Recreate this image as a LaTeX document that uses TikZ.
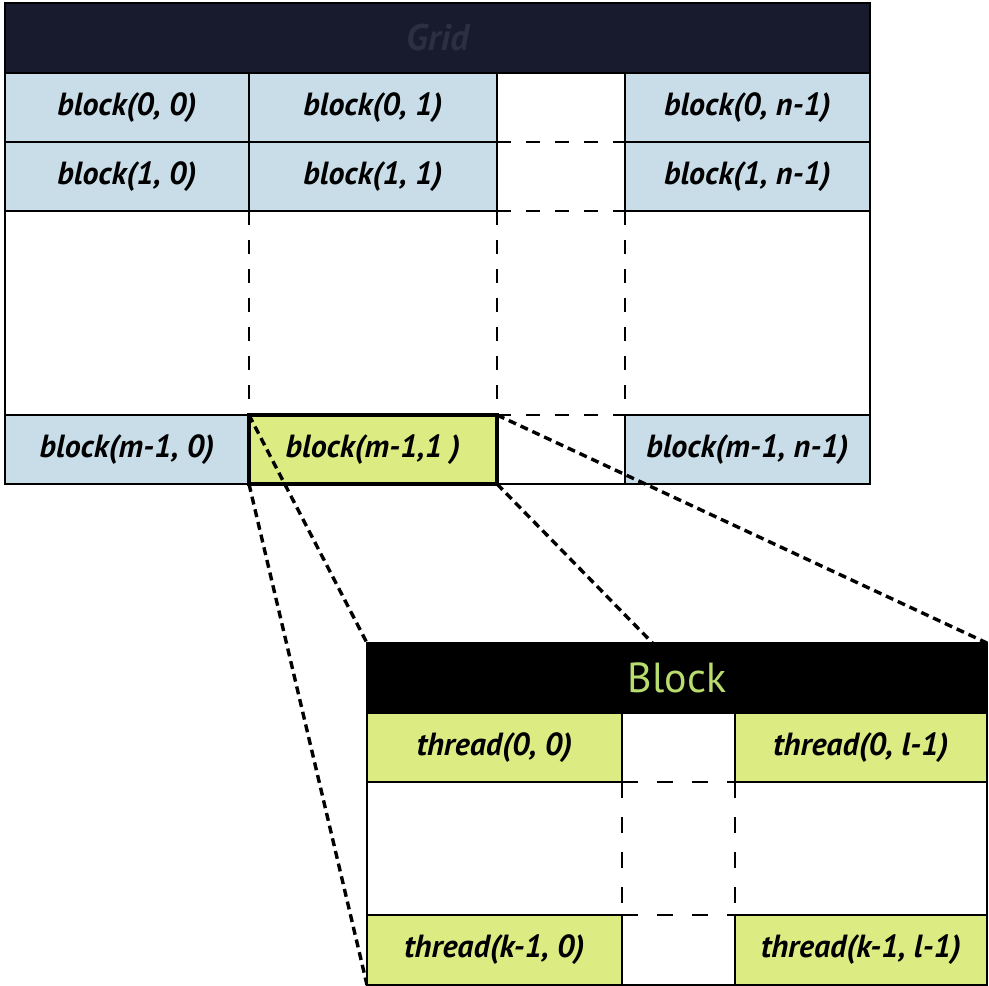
\documentclass[tikz,border=0pt]{standalone}
\usepackage{fontspec}
\setmainfont{PT Sans}

\definecolor{gridhead}{HTML}{171B2D}
\definecolor{gridlabel}{HTML}{2B2F40}
\definecolor{bluecell}{HTML}{C9DDE8}
\definecolor{greencell}{HTML}{DDEC82}
\definecolor{blocklabel}{HTML}{B9DC6E}

\begin{document}
\begin{tikzpicture}[x=1pt,y=-1pt,
  frame/.style={draw=black, line width=2.1pt},
  cell/.style={draw=black, line width=2.1pt, inner sep=0pt, outer sep=0pt,
    anchor=north west, font=\fontsize{32}{36}\selectfont\bfseries\itshape},
  size/.style 2 args={minimum width=#1pt, minimum height=#2pt},
  bluebox/.style={cell, fill=bluecell},
  greenbox/.style={cell, fill=greencell},
  hole/.style={draw=black, line width=2.1pt, dash pattern=on 14pt off 15pt},
  holeb/.style={draw=black, line width=2.1pt, dash pattern=on 16pt off 19pt},
  zoomline/.style={draw=black, line width=3.4pt, dash pattern=on 8pt off 5pt},
]
\useasboundingbox (0,0) rectangle (989,986);

% ---------------- Grid ----------------
\node[cell, size={865}{70}, fill=gridhead, text=gridlabel,
      font=\fontsize{37}{40}\selectfont\bfseries\itshape] (gridhead) at (5,3) {Grid};

\node[bluebox, size={244}{69}] (b00) at (5,73)   {block(0, 0)};
\node[bluebox, size={248}{69}] (b01) at (249,73) {block(0, 1)};
\node[bluebox, size={245}{69}] (b0n) at (625,73) {block(0, n-1)};

\node[bluebox, size={244}{69}] (b10) at (5,142)   {block(1, 0)};
\node[bluebox, size={248}{69}] (b11) at (249,142) {block(1, 1)};
\node[bluebox, size={245}{69}] (b1n) at (625,142) {block(1, n-1)};

\node[bluebox, size={244}{69}] (bm0) at (5,415)   {block(m-1, 0)};
\node[bluebox, size={245}{69}] (bmn) at (625,415) {block(m-1, n-1)};

% selected block
\node[greenbox, size={248}{69}, line width=3.6pt] (bm1) at (249,415) {block(m-1,1 )};

% outer sides of the grid
\draw[frame] (b10.south west) -- (bm0.north west);
\draw[frame] (b1n.south east) -- (bmn.north east);
\draw[frame] (bm1.south east) -- (bmn.south west);

% omitted rows and columns
\draw[hole] (b11.south west) -- (bm1.north west);
\draw[hole] (b11.south east) -- (bm1.north east);
\draw[hole] (b1n.south west) -- (bmn.north west);
\draw[hole] (b01.south east) -- (b0n.south west);
\draw[hole] (b11.south east) -- (b1n.south west);
\draw[hole] (bm1.north east) -- (bmn.north west);

% ---------------- zoom lines ----------------
\coordinate (bNW) at (367,643);
\coordinate (bNE) at (987,643);
\coordinate (bSW) at (367,985);
\coordinate (bSE) at (987,985);

\draw[zoomline] (bm1.north west) -- (bNW);
\draw[zoomline] (bm1.south west) -- (bSW);
\draw[zoomline] (bm1.north east) -- (bNE);
\draw[zoomline] (bm1.south east) -- (bSE);

% ---------------- Block ----------------
\node[cell, size={620}{342}, fill=white] (blockframe) at (bNW) {};
\node[cell, size={620}{70}, fill=black, text=blocklabel,
      font=\fontsize{42}{46}\selectfont] (blkhead) at (bNW) {Block};

\node[greenbox, size={255}{69}] (t00) at (367,713) {thread(0, 0)};
\node[greenbox, size={252}{69}] (t0l) at (735,713) {thread(0, l-1)};
\node[greenbox, size={255}{70}] (tk0) at (367,915) {thread(k-1, 0)};
\node[greenbox, size={252}{70}] (tkl) at (735,915) {thread(k-1, l-1)};

\draw[holeb] (t00.south east) -- (t0l.south west);
\draw[holeb] (tk0.north east) -- (tkl.north west);
\draw[holeb] (t00.south east) -- (tk0.north east);
\draw[holeb] (t0l.south west) -- (tkl.north west);
\end{tikzpicture}
\end{document}
